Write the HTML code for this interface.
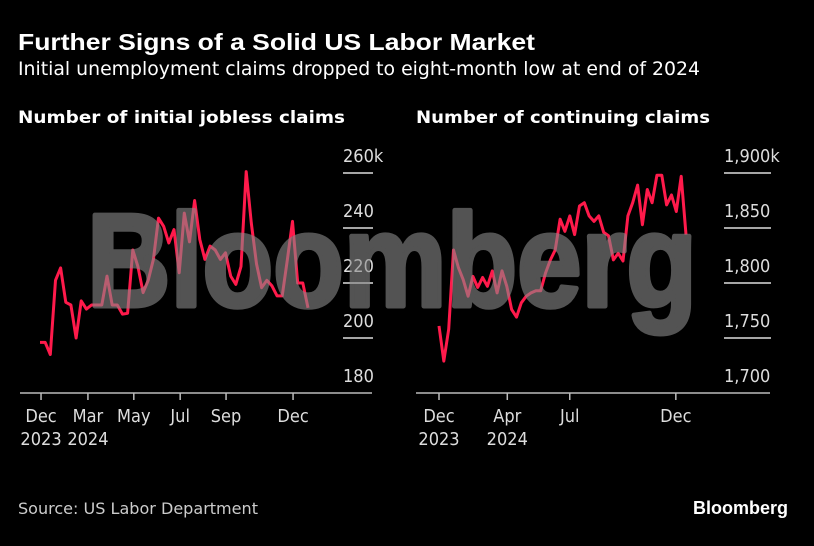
<!DOCTYPE html>
<html><head><meta charset="utf-8">
<style>
body{margin:0;background:#000;width:814px;height:546px;overflow:hidden;font-family:"Liberation Sans","DejaVu Sans",sans-serif;color:#fff}
svg{display:block}
</style></head>
<body>
<svg id="c" width="814" height="546" viewBox="0 0 814 546">
<rect width="814" height="546" fill="#000"/>
<text x="18" y="50" font-size="23" font-weight="bold" fill="#fff" textLength="517" lengthAdjust="spacingAndGlyphs">Further Signs of a Solid US Labor Market</text>
<text x="18" y="75" font-size="19" fill="#fff" font-family="DejaVu Sans Condensed, DejaVu Sans, sans-serif" textLength="682" lengthAdjust="spacingAndGlyphs">Initial unemployment claims dropped to eight-month low at end of 2024</text>
<text x="18" y="123" font-size="17" font-weight="bold" fill="#fff" font-family="DejaVu Sans, sans-serif" textLength="327" lengthAdjust="spacingAndGlyphs">Number of initial jobless claims</text>
<text x="416" y="123" font-size="17" font-weight="bold" fill="#fff" font-family="DejaVu Sans, sans-serif" textLength="294" lengthAdjust="spacingAndGlyphs">Number of continuing claims</text>
<g id="left"></g>
<g id="right"></g>
<g opacity="0.6">
<text x="392" y="306" font-size="132" font-weight="bold" fill="#8a8a8a" stroke="#8a8a8a" stroke-width="5" stroke-linejoin="round" text-anchor="middle" textLength="610" lengthAdjust="spacingAndGlyphs">Bloomberg</text>
</g>
<text x="18" y="514" font-size="16" fill="#ccc" font-family="DejaVu Sans Condensed, DejaVu Sans, sans-serif" textLength="240" lengthAdjust="spacingAndGlyphs">Source: US Labor Department</text>
<text x="788" y="514" font-size="18" font-weight="bold" fill="#fff" text-anchor="end">Bloomberg</text>
</svg>
<script>
const initialClaims=[198.4,198.4,194,221,225.5,213,212,200,213.5,210.5,212,212,212,222.5,212,212,208.7,209,232,226,216.5,221,228.6,243.6,240.6,234.6,239.4,223.7,245.4,235,250,235.8,228.6,233.4,232,228.6,231,222.5,219.5,226,260.5,241.8,227,218.3,221,219,215.3,215.3,228.6,242.4,220,220,211];
const initialTicks=[180,200,220,240,260];
const initialTickLabels=["180","200","220","240","260k"];
const initialXTickIdx=[0.2,9.3,18.2,27.2,36.1,49.1];
const initialXLabels=[["Dec","2023"],["Mar","2024"],["May",""],["Jul",""],["Sep",""],["Dec",""]];

const continuingClaims=[1761,1729,1758,1830,1814,1803,1788,1806,1796,1805,1797,1811,1791,1811,1797,1776,1769,1782,1788,1791,1793,1793,1809,1821,1830,1858,1847,1861,1844,1870,1873,1861,1856,1861,1846,1843,1821,1827,1820,1861,1873,1889,1853,1885,1873,1898,1898,1871,1880,1865,1897,1844];
const contTicks=[1700,1750,1800,1850,1900];
const contTickLabels=["1,700","1,750","1,800","1,850","1,900k"];
const contXTickIdx=[0,14.1,27,48.9];
const contXLabels=[["Dec","2023"],["Apr","2024"],["Jul",""],["Dec",""]];

const NS="http://www.w3.org/2000/svg";
function mk(t,a,p){const e=document.createElementNS(NS,t);for(const k in a)e.setAttribute(k,a[k]);p.appendChild(e);return e;}
function panel(g,cfg){
  const y=v=>cfg.y0+(v-cfg.vmin)/(cfg.vmax-cfg.vmin)*(cfg.y1-cfg.y0);
  const x=i=>cfg.x0+i*(cfg.x1-cfg.x0)/(cfg.data.length-1);
  const ax=mk('line',{x1:cfg.axL,x2:cfg.axR,y1:y(cfg.vmin),y2:y(cfg.vmin),stroke:'#bbb','stroke-width':1.5},g);
  
  
  cfg.ticks.forEach((t,k)=>{
    if(k>0){const l=mk('line',{x1:cfg.gx0,x2:cfg.gx1,y1:y(t),y2:y(t),stroke:'#ddd','stroke-width':1.5},g);
    
    }
    const tx=mk('text',{x:cfg.gx0,y:y(t)-11,'font-size':18,fill:'#ddd','font-family':'DejaVu Sans Condensed, DejaVu Sans, sans-serif'},g);
    tx.textContent=cfg.labels[k];
    
    
  });
  cfg.xt.forEach((ti,k)=>{
    const xx=x(ti);
    const tk=mk('line',{x1:xx,x2:xx,y1:y(cfg.vmin),y2:y(cfg.vmin)+7,stroke:'#bbb','stroke-width':1.5},g);
    
    
    cfg.xl[k].forEach((s,r)=>{ if(!s)return;
      const tx=mk('text',{x:xx,y:y(cfg.vmin)+29+r*23,'font-size':18,fill:'#ddd','text-anchor':'middle','font-family':'DejaVu Sans Condensed, DejaVu Sans, sans-serif'},g);
      tx.textContent=s;
      
      
    });
  });
  const p=mk('polyline',{points:cfg.data.map((v,i)=>x(i).toFixed(1)+','+y(v).toFixed(1)).join(' '),fill:'none',stroke:'#ff1a4b','stroke-width':3,'stroke-linejoin':'round'},g);
  
  
}
panel(document.getElementById('left'),{name:'initial-claims',data:initialClaims,vmin:180,vmax:260,y0:393,y1:173,x0:40,x1:308,axL:20,axR:372,gx0:343,gx1:373,ticks:initialTicks,labels:initialTickLabels,xt:initialXTickIdx,xl:initialXLabels});
panel(document.getElementById('right'),{name:'continuing-claims',data:continuingClaims,vmin:1700,vmax:1900,y0:393,y1:173,x0:439,x1:686,axL:416,axR:770,gx0:724,gx1:771,ticks:contTicks,labels:contTickLabels,xt:contXTickIdx,xl:contXLabels});
</script>
</body></html>
